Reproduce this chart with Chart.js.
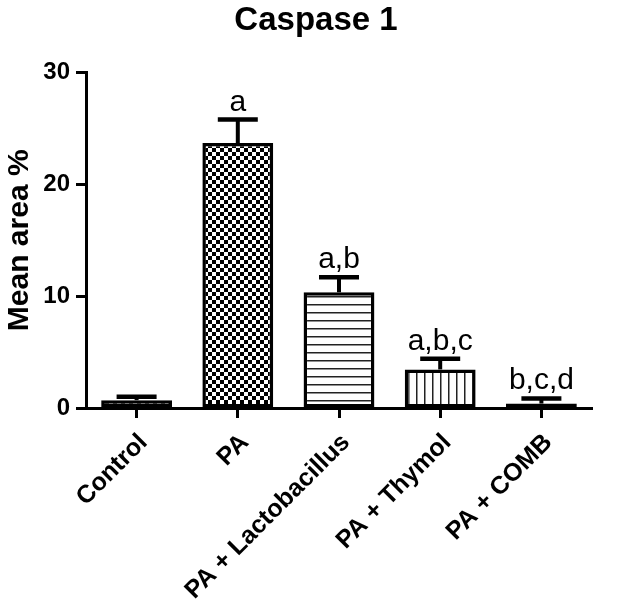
<!DOCTYPE html>
<html><head><meta charset="utf-8">
<script src="https://cdn.jsdelivr.net/npm/chart.js@4.4.0/dist/chart.umd.min.js"></script>
<style>html,body{margin:0;padding:0;background:#fff}#wrap{width:620px;height:606px}</style>
</head><body><div id="wrap"><canvas id="c" width="620" height="606"></canvas></div>
<script>
const categories = ["Control", "PA", "PA + Lactobacillus", "PA + Thymol", "PA + COMB"];
const meanValues = [0.7, 23.7, 10.35, 3.45, 0.4];
const semValues = [0.3, 2.1, 1.35, 0.95, 0.45];
const letters = ["", "a", "a,b", "a,b,c", "b,c,d"];
const yTickValues = [0, 10, 20, 30];

const FONT = '"Liberation Sans", Arial, sans-serif';
Chart.defaults.font.family = FONT;

function makePattern(kind) {
  const c = document.createElement('canvas');
  c.width = 8; c.height = 8;
  const g = c.getContext('2d');
  g.fillStyle = '#fff'; g.fillRect(0, 0, 8, 8);
  g.fillStyle = '#000';
  if (kind === 'checker') { g.fillRect(0, 0, 4, 4); g.fillRect(4, 4, 4, 4); }
  else if (kind === 'hlines') { g.fillStyle = '#222'; g.fillRect(0, 0, 8, 1.5); }
  else if (kind === 'vlines') { g.fillStyle = '#222'; g.fillRect(0, 0, 1.5, 8); }
  else if (kind === 'dashes') { g.fillRect(1, 2, 4, 2); }
  else if (kind === 'solid') { g.fillStyle = '#111'; g.fillRect(0, 0, 8, 8); }
  return g.createPattern(c, 'repeat');
}
const fills = [makePattern('dashes'), makePattern('checker'), makePattern('hlines'), makePattern('vlines'), makePattern('solid')];

const errorBarPlugin = {
  id: 'errbars',
  afterDatasetsDraw(chart) {
    const ctx = chart.ctx;
    const meta = chart.getDatasetMeta(0);
    const y = chart.scales.y;
    meta.data.forEach((bar, i) => {
      const top = y.getPixelForValue(meanValues[i] + semValues[i]);
      ctx.save();
      ctx.strokeStyle = '#000';
      ctx.lineWidth = 4;
      ctx.beginPath(); ctx.moveTo(bar.x, bar.y); ctx.lineTo(bar.x, top); ctx.stroke();
      ctx.lineWidth = 4.5;
      ctx.beginPath(); ctx.moveTo(bar.x - 20, top); ctx.lineTo(bar.x + 20, top); ctx.stroke();
      ctx.fillStyle = '#000';
      ctx.font = '30px ' + FONT;
      ctx.textAlign = 'center';
      ctx.textBaseline = 'alphabetic';
      if (letters[i]) ctx.fillText(letters[i], bar.x, top - 9);
      ctx.restore();
    });
  }
};

new Chart(document.getElementById('c'), {
  type: 'bar',
  data: {
    labels: categories,
    datasets: [{
      data: meanValues,
      backgroundColor: fills,
      borderColor: '#000',
      borderWidth: 3.5,
      borderSkipped: false,
      barPercentage: 0.7,
      categoryPercentage: 1.0
    }]
  },
  options: {
    responsive: false,
    animation: false,
    devicePixelRatio: 1,
    layout: { padding: { left: 40, right: 28, top: 0, bottom: 0 } },
    plugins: {
      legend: { display: false },
      tooltip: { enabled: false },
      title: {
        display: true, text: 'Caspase 1', color: '#000',
        font: { size: 33, weight: 'bold' },
        padding: { top: 1, bottom: 32 }
      }
    },
    scales: {
      x: {
        grid: { display: true, drawOnChartArea: false, drawTicks: true, tickLength: 10, tickWidth: 3, tickColor: '#000', offset: false },
        border: { display: true, color: '#000', width: 3 },
        ticks: { color: '#000', font: { size: 25, weight: 'bold' }, maxRotation: 45, minRotation: 45, autoSkip: false, padding: 10, labelOffset: 7 },
        afterFit(s) { s.height = 198; }
      },
      y: {
        min: 0, max: 30,
        afterBuildTicks(s) { s.ticks = yTickValues.map(v => ({ value: v })); },
        grid: { display: true, drawOnChartArea: false, drawTicks: true, tickLength: 10, tickWidth: 3, tickColor: '#000' },
        border: { display: true, color: '#000', width: 3 },
        ticks: { color: '#000', font: { size: 24, weight: 'bold' }, padding: 6 },
        title: { display: true, text: 'Mean area %', color: '#000', font: { size: 30, weight: 'bold' }, padding: { top: -38, bottom: 0 } },
        afterFit(s) { s.width = 46; }
      }
    }
  },
  plugins: [errorBarPlugin]
});
</script>
</body></html>
